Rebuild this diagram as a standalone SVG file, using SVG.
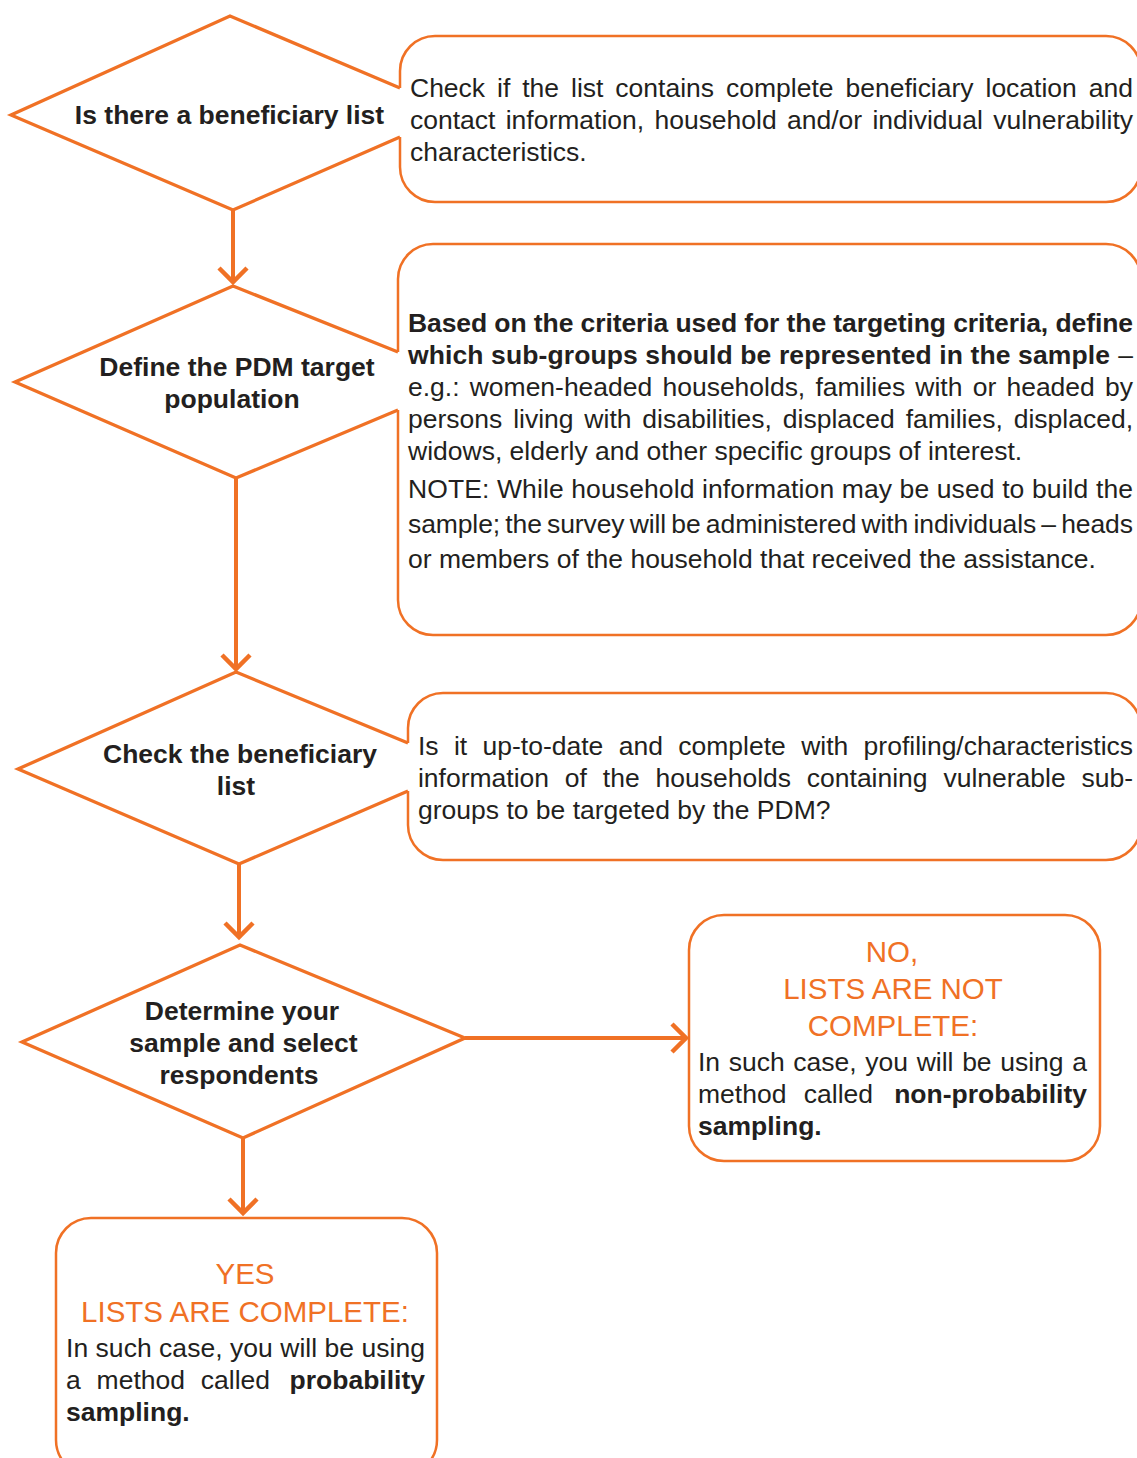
<svg xmlns="http://www.w3.org/2000/svg" width="1137" height="1458" viewBox="0 0 1137 1458">
<style>
.dia{fill:#fff;stroke:#F07125;stroke-width:3.3;stroke-linejoin:miter}
.box{fill:#fff;stroke:#F07125;stroke-width:2.5}
.con{fill:none;stroke:#F07125;stroke-width:4}
.t{font-family:"Liberation Sans",Arial,sans-serif;font-size:26.5px;fill:#231F20}
.b{font-weight:bold}
.c{text-anchor:middle}
.e{text-anchor:end}
.o{font-family:"Liberation Sans",Arial,sans-serif;font-size:29.5px;fill:#F07125;text-anchor:middle}
</style>
<defs>
<marker id="ah" markerUnits="userSpaceOnUse" markerWidth="40" markerHeight="40" viewBox="-20 -20 40 40" refX="0" refY="0" orient="auto">
<path d="M-14,-14 L0,0 L-14,14" fill="none" stroke="#F07125" stroke-width="4.5"/>
</marker>
</defs>
<rect width="1137" height="1458" fill="#fff"/>

<g id="connectors">
<line class="con" x1="233" y1="210" x2="233" y2="282" marker-end="url(#ah)"/>
<line class="con" x1="236" y1="478" x2="236" y2="669" marker-end="url(#ah)"/>
<line class="con" x1="239" y1="864" x2="239" y2="937" marker-end="url(#ah)"/>
<line class="con" x1="465" y1="1038" x2="686" y2="1038" marker-end="url(#ah)"/>
<line class="con" x1="243" y1="1138" x2="243" y2="1213" marker-end="url(#ah)"/>
</g>

<g id="node1">
<polyline class="dia" points="400,88 230,16 11,115 233,210 400,137"/>
<path class="box" d="M400,88 V71 A35,35 0 0 1 435,36 H1106 A35,35 0 0 1 1141,71 V167 A35,35 0 0 1 1106,202 H435 A35,35 0 0 1 400,167 V137"/>
<text class="t b c" x="229.5" y="124">Is there a beneficiary list</text>
<text class="t" x="410" y="97" style="word-spacing:4.6px" textLength="723" lengthAdjust="spacing">Check if the list contains complete beneficiary location and</text>
<text class="t" x="410" y="129" style="word-spacing:3px" textLength="723" lengthAdjust="spacing">contact information, household and/or individual vulnerability</text>
<text class="t" x="410" y="161">characteristics.</text>
</g>

<g id="node2">
<polyline class="dia" points="398,352 233,286 15,382 236,478 398,410"/>
<path class="box" d="M398,352 V279 A35,35 0 0 1 433,244 H1106 A35,35 0 0 1 1141,279 V600 A35,35 0 0 1 1106,635 H433 A35,35 0 0 1 398,600 V410"/>
<text class="t b c" x="237" y="376">Define the PDM target</text>
<text class="t b c" x="232" y="408">population</text>
<text class="t b" x="408" y="332" textLength="725" lengthAdjust="spacing">Based on the criteria used for the targeting criteria, define</text>
<text class="t b" x="408" y="364" textLength="702" lengthAdjust="spacing">which sub-groups should be represented in the sample</text>
<text class="t e" x="1133" y="364">–</text>
<text class="t" x="408" y="396" style="word-spacing:2.9px" textLength="725" lengthAdjust="spacing">e.g.: women-headed households, families with or headed by</text>
<text class="t" x="408" y="428" style="word-spacing:3.5px" textLength="725" lengthAdjust="spacing">persons living with disabilities, displaced families, displaced,</text>
<text class="t" x="408" y="460">widows, elderly and other specific groups of interest.</text>
<text class="t" x="408" y="498" textLength="725" lengthAdjust="spacing">NOTE: While household information may be used to build the</text>
<text class="t" x="408" y="533" style="word-spacing:-2px" textLength="725" lengthAdjust="spacing">sample; the survey will be administered with individuals – heads</text>
<text class="t" x="408" y="568">or members of the household that received the assistance.</text>
</g>

<g id="node3">
<polyline class="dia" points="408,743 236,672 18,769 239,864 408,791"/>
<path class="box" d="M408,743 V728 A35,35 0 0 1 443,693 H1106 A35,35 0 0 1 1141,728 V825 A35,35 0 0 1 1106,860 H443 A35,35 0 0 1 408,825 V791"/>
<text class="t b c" x="240" y="763">Check the beneficiary</text>
<text class="t b c" x="236" y="795">list</text>
<text class="t" x="418" y="755" style="word-spacing:8px" textLength="715" lengthAdjust="spacing">Is it up-to-date and complete with profiling/characteristics</text>
<text class="t" x="418" y="787" style="word-spacing:8.5px" textLength="715" lengthAdjust="spacing">information of the households containing vulnerable sub-</text>
<text class="t" x="418" y="819">groups to be targeted by the PDM?</text>
</g>

<g id="node4">
<polygon class="dia" points="240,945 465,1038 243,1138 22,1042"/>
<text class="t b c" x="242" y="1020">Determine your</text>
<text class="t b c" x="243.5" y="1052">sample and select</text>
<text class="t b c" x="239" y="1084">respondents</text>
</g>

<g id="node-no">
<rect class="box" x="689" y="915" width="411" height="246" rx="35" ry="35"/>
<text class="o" x="892" y="962">NO,</text>
<text class="o" x="893" y="999">LISTS ARE NOT</text>
<text class="o" x="893" y="1036">COMPLETE:</text>
<text class="t" x="698" y="1071" style="word-spacing:1.3px" textLength="389" lengthAdjust="spacing">In such case, you will be using a</text>
<text class="t" x="698" y="1103" style="word-spacing:10px" textLength="175" lengthAdjust="spacing">method called</text>
<text class="t b e" x="1087" y="1103">non-probability</text>
<text class="t b" x="698" y="1135">sampling.</text>
</g>

<g id="node-yes">
<rect class="box" x="56" y="1218" width="381" height="257" rx="35" ry="35"/>
<text class="o" x="245" y="1284">YES</text>
<text class="o" x="245" y="1322">LISTS ARE COMPLETE:</text>
<text class="t" x="66" y="1357" textLength="359" lengthAdjust="spacing">In such case, you will be using</text>
<text class="t" x="66" y="1389" style="word-spacing:8.5px" textLength="204" lengthAdjust="spacing">a method called</text>
<text class="t b e" x="425" y="1389">probability</text>
<text class="t b" x="66" y="1421">sampling.</text>
</g>
</svg>
